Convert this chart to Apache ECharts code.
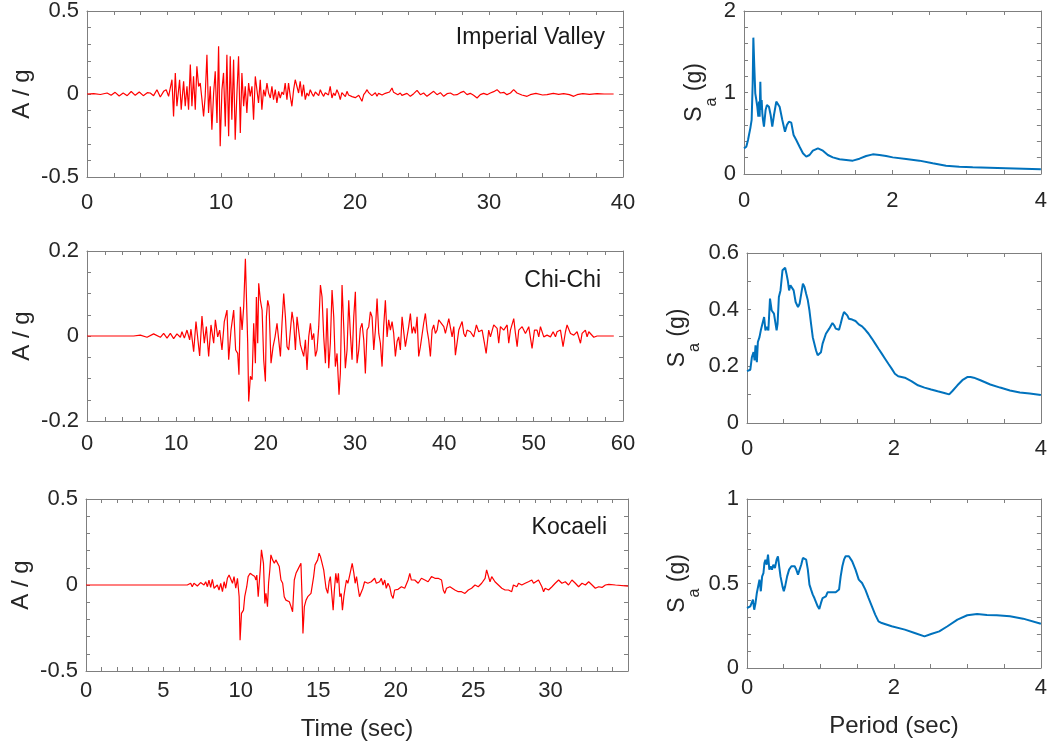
<!DOCTYPE html>
<html>
<head>
<meta charset="utf-8">
<script src="https://cdn.jsdelivr.net/npm/echarts@6/dist/echarts.min.js"></script>
<style>html,body{margin:0;padding:0;background:#fff;}#c{width:1050px;height:749px;}</style>
</head>
<body>
<div id="c"></div>
<script>
// ---------------- DATA ----------------
// Imperial Valley acceleration record [time (s), A/g]
const imperialAcc = [
[0,0],[0.5,0.002],[1.0,-0.003],[1.5,0.006],[1.8,-0.008],[2.1,0.01],[2.4,-0.012],[2.7,0.006],[3.0,-0.01],[3.3,0.015],[3.6,-0.008],[3.9,0.012],[4.2,-0.01],[4.5,0.008],
[4.72,0.006],[4.97,-0.010],[5.22,0.026],[5.47,-0.018],[5.72,0.016],[5.91,0.026],[6.09,-0.014],[6.34,0.086],[6.46,-0.135],[6.59,0.127],[6.71,-0.074],[6.91,0.086],[7.03,-0.094],[7.21,0.076],[7.33,-0.074],[7.46,0.046],[7.58,-0.094],[7.71,0.177],[7.83,-0.074],[7.95,0.106],[8.08,-0.094],[8.20,0.167],[8.33,0.046],[8.45,0.066],[8.58,-0.034],[8.70,-0.135],[8.82,-0.014],[8.95,0.237],[9.07,-0.114],[9.20,0.046],[9.32,-0.215],[9.45,0.006],[9.57,0.137],[9.70,-0.175],[9.82,0.287],[9.94,-0.315],[10.07,0.026],[10.19,0.127],[10.32,-0.195],[10.44,0.237],[10.57,-0.255],[10.69,0.227],[10.81,-0.155],[10.94,0.207],[11.06,-0.275],[11.19,0.006],[11.31,0.227],[11.44,-0.235],[11.56,0.127],[11.69,-0.074],[11.81,0.046],[11.93,-0.114],[12.06,0.066],[12.18,-0.014],[12.31,0.046],[12.43,-0.155],[12.56,0.106],[12.68,0.116],[12.80,-0.054],[12.93,0.086],[13.05,-0.094],[13.18,0.026],[13.30,-0.014],[13.43,0.066],[13.55,0.006],[13.68,-0.024],[13.80,0.046],[13.92,-0.034],[14.05,0.026],[14.17,-0.054],[14.30,0.016],[14.42,-0.024],[14.55,0.012],[14.67,-0.004],[14.79,0.066],[14.92,-0.034],[15.04,0.066],[15.17,-0.014],[15.29,-0.074],[15.42,0.026],[15.54,0.086],[15.67,0.096],[15.79,0.006],[15.91,0.076],[16.04,-0.014],[16.16,0.056],[16.29,-0.034],[16.41,0.006],[16.54,-0.012],[16.66,0.026],[16.78,0.004],[16.91,-0.014],[17.04,0.012],[17.16,0.006],[17.29,-0.010],[17.41,0.026],[17.54,0.002],[17.66,-0.014],[17.78,0.008],[17.90,0.016],[18.02,-0.006],[18.15,0.046],[18.28,-0.024],[18.40,0.006],[18.52,-0.010],[18.65,0.026],[18.78,0.002],[18.90,-0.034],[19.02,0.008],[19.15,-0.004],[19.28,-0.016],[19.40,0.016],[19.52,-0.006],[19.65,0.006],
[19.78,-0.016],[19.90,-0.004],[20.02,-0.022],[20.15,-0.034],[20.28,-0.008],[20.40,-0.014],[20.52,-0.044],[20.65,-0.004],[20.78,0.010],[20.90,0.026],[21.02,0.008],[21.14,0.016],[21.26,-0.010],[21.39,-0.004],[21.52,0.008],[21.64,-0.014],[21.76,0.004],[21.89,0.006],[22.02,-0.006],[22.14,-0.014],[22.26,0.004],[22.39,-0.004],[22.58,0.012],[22.76,0.036],[22.88,0.010],[23.01,0.016],[23.2,-0.004],[23.38,0.006],[23.50,-0.008],[23.63,-0.014],[23.88,0.004],[24.13,-0.014],[24.38,0.002],[24.63,0.022],[24.88,-0.004],[25.12,0.006],[25.37,-0.014],[25.62,0.002],[25.87,0.016],[26.12,-0.004],[26.37,0.008],[26.62,-0.014],[26.87,0.002],[27.12,0.006],[27.37,-0.006],[27.61,-0.004],[27.86,0.008],[28.11,0.016],[28.36,-0.004],[28.6,0.004],[28.85,-0.008],[29.11,-0.024],[29.35,-0.004],[29.6,0.004],[29.85,-0.004],[30.10,0.006],[30.35,0.014],[30.60,0.026],[30.85,0.006],[31.1,0.010],[31.34,-0.004],[31.6,0.006],[31.84,0.026],[32.09,0.006],[32.45,-0.006],[32.84,-0.014],[33.08,-0.004],[33.5,0.004],[34.0,-0.006],[34.33,-0.004],[34.8,0.004],[35.2,-0.002],[35.57,0.002],[36.0,-0.004],[36.32,-0.014],[36.57,-0.004],[37.0,0.002],[37.5,-0.002],[38.06,0.002],[38.6,0],[39.30,0]
];

// Chi-Chi acceleration record [time (s), A/g]
const chichiAcc = [
[0,0],[5.22,0],[5.97,0.002],[6.72,-0.003],[7.46,0.005],[8.21,-0.003],[8.58,0.006],[8.96,-0.005],[9.33,0.006],[9.70,-0.006],[10.07,0.005],[10.45,-0.003],[10.63,0.010],[10.90,-0.005],[11.19,0.014],[11.49,-0.009],[11.64,0.016],[11.94,-0.037],[12.20,0.034],[12.61,-0.047],[12.87,0.047],[13.13,-0.017],[13.36,0.022],[13.62,-0.048],[13.88,0.026],[14.18,-0.017],[14.37,0.038],[14.63,-0.002],[14.85,0.014],[15.11,-0.033],[15.37,0.034],[15.67,0.061],[15.86,-0.056],[16.12,0.014],[16.42,0.061],[16.64,-0.033],[16.87,-0.041],[17.01,-0.091],
[17.17,0.069],[17.36,0.014],[17.54,0.069],[17.73,0.182],[17.99,-0.017],[18.10,-0.154],[18.29,-0.095],[18.48,-0.103],[18.66,0.030],[18.85,-0.064],[18.96,0.092],[19.11,-0.017],[19.22,0.124],[19.41,0.084],[19.60,0.061],[19.78,-0.056],[19.97,-0.107],[20.08,0.045],[20.23,0.084],[20.38,0.069],[20.60,-0.064],[20.83,-0.025],[21.05,-0.002],[21.27,0.030],[21.46,-0.009],[21.65,-0.048],[21.83,0.030],[22.02,0.100],[22.21,0.045],[22.39,-0.025],[22.58,-0.033],[22.77,0.014],[22.95,0.057],[23.14,0.030],[23.33,-0.033],[23.51,0.045],[23.70,0.041],[23.89,-0.021],[24.07,-0.025],[24.26,-0.048],[24.45,-0.009],[24.63,-0.080],[24.82,-0.002],[25.01,0.030],[25.19,-0.009],[25.38,0.006],[25.57,-0.048],[25.75,-0.033],[25.94,0.022],[26.13,0.120],[26.31,0.092],[26.50,-0.002],[26.69,-0.064],[26.87,0.065],[27.06,-0.076],[27.24,-0.017],[27.43,0.108],[27.62,0.045],[27.80,-0.072],[27.99,-0.041],[28.21,-0.138],[28.36,-0.088],[28.55,0.120],[28.74,0.022],[28.92,-0.076],[29.11,-0.033],[29.30,0.084],[29.48,0.006],[29.67,-0.056],[29.86,0.045],[30.04,0.104],[30.23,-0.064],[30.42,-0.033],[30.60,0.018],[30.79,0.030],[30.98,-0.009],[31.16,-0.088],[31.35,0.014],[31.54,0.022],[31.72,0.057],[31.91,0.045],[32.10,-0.033],[32.28,0.014],[32.47,0.088],[32.66,0.006],[32.84,-0.017],[33.03,-0.072],[33.21,0.022],[33.40,0.084],[33.59,-0.002],[33.77,0.038],[33.96,0.014],[34.15,0.034],[34.33,0.006],[34.52,-0.048],[34.71,-0.013],[34.89,-0.002],[35.08,-0.033],[35.27,0.045],[35.45,0.049],[35.64,-0.025],[35.83,-0.029],[36.01,0.022],[36.20,0.053],[36.39,0.006],[36.57,0.022],[36.76,0.006],[36.95,0.045],[37.13,-0.048],[37.32,-0.025],[37.51,-0.021],[37.69,0.030],[37.88,0.053],[38.07,0.014],[38.25,-0.009],[38.44,-0.048],[38.63,0.014],[38.81,0.026],[39.00,0.006],[39.19,0.014],[39.37,0.038],[39.56,0.041],
[39.94,0.022],[40.12,0.006],[40.50,0.041],[40.87,-0.002],[41.06,0.022],[41.24,-0.045],[41.62,0.014],[41.99,0.034],[42.18,0.006],[42.36,-0.002],[42.55,0.014],[42.92,0.010],[43.29,-0.002],[43.59,0.026],[43.85,0.010],[44.23,0.014],[44.49,-0.017],[44.68,-0.041],[44.97,0.014],[45.16,-0.002],[45.53,0.026],[45.91,0.018],[46.09,-0.017],[46.28,0.022],[46.65,0.014],[47.03,0.026],[47.21,-0.017],[47.40,0.014],[47.77,0.041],[47.96,0.006],[48.15,-0.025],[48.33,0.014],[48.71,0.022],[49.08,0.006],[49.45,0.022],[49.82,-0.029],[50.09,0.014],[50.38,0.014],[50.57,-0.002],[50.76,0.022],[51.13,-0.002],[51.50,0.002],[51.88,-0.002],[52.18,0.010],[52.44,-0.002],[52.62,0.010],[53.00,0.014],[53.29,-0.025],[53.56,0.010],[53.74,0.026],[54.12,0.006],[54.49,0.002],[54.86,0.010],[55.24,-0.017],[55.42,0.006],[55.79,0.014],[55.98,-0.002],[56.17,0.010],[56.35,0.014],[56.73,-0.003],[57.10,0],[58.97,0]
];

// Kocaeli acceleration record [time (s), A/g]
const kocaeliAcc = [
[0,0],[5.46,0],[6.54,0],[6.76,0.010],[6.86,-0.010],[6.97,0.010],[7.19,-0.006],[7.40,0.014],[7.62,0],[7.73,0.019],[7.84,-0.010],[7.94,0.029],[8.05,-0.014],[8.16,0.033],[8.27,-0.019],[8.48,0],[8.59,-0.029],[8.70,0.010],[8.81,-0.039],[8.92,0.019],[9.02,-0.019],[9.13,0.039],[9.24,0.058],[9.35,0.068],[9.46,0.010],[9.56,0.049],[9.67,-0.019],[9.78,0.039],[9.89,-0.068],[9.95,-0.321],[10.04,-0.165],[10.17,-0.146],[10.25,-0.068],[10.38,-0.010],[10.47,0.049],[10.60,0.068],[10.75,0.058],[10.90,0.049],[10.97,0.029],[11.03,0.058],[11.12,-0.068],[11.25,0.088],[11.33,0.204],[11.46,0.126],[11.55,-0.107],[11.62,-0.049],[11.72,-0.126],[11.79,0.010],[11.87,0.088],[11.94,0.175],[12.05,0.146],[12.16,0.126],[12.26,0.146],[12.37,0.136],[12.48,0.107],[12.59,0.029],[12.70,0.010],[12.80,-0.068],[12.91,-0.088],[13.02,-0.078],[13.13,-0.097],[13.24,-0.126],[13.34,-0.156],[13.45,0.029],[13.56,0.068],[13.67,0.088],[13.78,0.078],[13.88,0.126],[13.95,-0.068],[14.01,-0.282],[14.10,-0.126],[14.21,-0.088],[14.32,-0.068],[14.53,-0.049],[14.70,0.049],[14.79,0.117],[14.88,0.126],[14.96,0.146],[15.05,0.185],[15.14,0.165],[15.22,0.136],[15.35,0.088],[15.50,-0.019],[15.61,-0.049],[15.70,0.019],[15.78,0.049],[15.87,-0.049],[15.96,-0.146],[16.04,-0.029],[16.13,0.068],[16.22,0.010],[16.30,0.068],[16.39,-0.068],[16.48,-0.049],[16.56,-0.146],[16.65,-0.068],[16.73,-0.019],[16.82,0.029],[16.91,0.010],[17.01,0.049],[17.12,0.049],[17.19,0.126],[17.30,0.068],[17.38,0.010],[17.47,0.049],[17.56,-0.010],[17.66,-0.068],[17.77,-0.078],[17.88,-0.019],[17.99,0.019],[18.20,0.010],[18.42,0.019],
[18.64,0.039],[18.75,0.010],[18.96,0.019],[19.07,0.039],[19.18,0],[19.29,0.029],[19.39,-0.019],[19.50,0.010],[19.61,-0.010],[19.72,-0.058],[19.83,-0.078],[19.93,-0.029],[20.04,-0.019],[20.15,-0.025],[20.37,-0.010],[20.58,-0.019],[20.80,0.029],[20.91,0.068],[21.01,0.029],[21.12,0.019],[21.23,0.029],[21.45,0.010],[21.66,0.039],[21.77,0.049],[21.88,0.029],[21.99,0.039],[22.09,0.019],[22.31,0.049],[22.42,0.058],[22.53,0.039],[22.63,0.049],[22.74,0.039],[22.96,0.029],[23.07,-0.029],[23.17,-0.049],[23.28,-0.019],[23.39,-0.029],[23.50,-0.010],[23.61,-0.019],[23.82,-0.029],[24.04,-0.039],[24.25,-0.039],[24.47,-0.049],[24.69,-0.029],[24.90,-0.019],[25.12,0],[25.33,-0.010],[25.55,0.010],[25.66,0.019],[25.77,0.039],[25.87,0.088],[25.98,0.078],[26.09,0.019],[26.20,0.049],[26.31,0.039],[26.41,0.019],[26.63,0],[26.85,-0.019],[27.06,-0.029],[27.28,-0.029],[27.49,-0.039],[27.60,0],[27.71,0.010],[27.82,-0.010],[27.93,0.010],[28.14,0],[28.36,0.010],[28.57,0.019],[28.79,0.029],[28.90,0.010],[29.00,0],[29.22,0.029],[29.44,-0.010],[29.55,-0.039],[29.65,-0.019],[29.87,-0.029],[30.09,-0.010],[30.30,0.010],[30.52,0.029],[30.73,0.010],[30.95,0.019],[31.16,0],[31.38,0.029],[31.49,0.039],[31.60,0.010],[31.81,-0.010],[32.03,0.010],[32.25,0],[32.46,0.019],[32.68,0],[32.89,-0.019],[33.11,-0.010],[33.32,-0.014],[33.54,0],[33.76,0.004],[34.19,0],[35.0,-0.006]
];

// Response spectra [period (s), Sa (g)]
const imperialSa = [
[0,0.315],[0.031,0.335],[0.054,0.417],[0.067,0.479],[0.085,0.560],[0.103,0.663],[0.117,1.112],[0.126,1.673],[0.139,1.317],[0.152,0.990],[0.166,0.908],[0.179,0.826],[0.193,0.703],[0.202,0.888],[0.211,0.703],[0.220,1.133],[0.229,0.785],[0.238,0.908],[0.247,0.744],[0.256,0.663],[0.269,0.581],[0.291,0.785],[0.309,0.847],[0.336,0.826],[0.359,0.724],[0.381,0.581],[0.404,0.724],[0.435,0.888],[0.457,0.908],[0.480,0.826],[0.516,0.663],[0.552,0.519],[0.578,0.601],[0.605,0.642],[0.637,0.630],[0.668,0.479],[0.704,0.417],[0.749,0.335],[0.794,0.254],[0.839,0.213],[0.883,0.233],[0.928,0.286],[0.996,0.315],[1.063,0.286],[1.130,0.233],[1.197,0.204],[1.287,0.180],[1.377,0.172],[1.466,0.164],[1.556,0.188],[1.646,0.221],[1.735,0.241],[1.825,0.233],[1.915,0.221],[2.004,0.204],[2.184,0.184],[2.363,0.164],[2.543,0.131],[2.722,0.102],[2.901,0.090],[3.081,0.082],[3.529,0.070],[4.0,0.057]
];
const chichiSa = [
[0,0.183],[0.045,0.188],[0.067,0.233],[0.089,0.250],[0.103,0.221],[0.116,0.274],[0.134,0.215],[0.148,0.286],[0.170,0.303],[0.188,0.327],[0.215,0.333],[0.233,0.374],[0.251,0.327],[0.268,0.339],[0.291,0.327],[0.313,0.439],[0.336,0.397],[0.349,0.397],[0.367,0.386],[0.380,0.392],[0.403,0.327],[0.416,0.350],[0.434,0.445],[0.456,0.468],[0.483,0.539],[0.501,0.545],[0.519,0.548],[0.537,0.527],[0.555,0.503],[0.573,0.468],[0.591,0.486],[0.617,0.480],[0.635,0.468],[0.662,0.427],[0.694,0.409],[0.716,0.421],[0.738,0.456],[0.761,0.492],[0.783,0.480],[0.805,0.456],[0.828,0.433],[0.850,0.397],[0.872,0.350],[0.895,0.303],[0.917,0.280],[0.940,0.256],[0.962,0.239],[0.984,0.233],[1.007,0.250],[1.029,0.280],[1.074,0.315],[1.119,0.333],[1.141,0.339],[1.163,0.353],[1.186,0.345],[1.208,0.333],[1.230,0.327],[1.253,0.329],[1.275,0.350],[1.298,0.374],[1.320,0.392],[1.342,0.395],[1.365,0.380],[1.387,0.368],[1.432,0.365],[1.477,0.360],[1.521,0.348],[1.566,0.341],[1.611,0.329],[1.655,0.315],[1.700,0.298],[1.745,0.280],[1.790,0.262],[1.834,0.245],[1.879,0.227],[1.924,0.209],[1.969,0.192],[2.013,0.174],[2.058,0.165],[2.148,0.160],[2.237,0.148],[2.327,0.133],[2.416,0.125],[2.506,0.118],[2.595,0.112],[2.685,0.106],[2.752,0.101],[2.796,0.113],[2.864,0.133],[2.931,0.151],[2.998,0.162],[3.043,0.162],[3.087,0.160],[3.177,0.151],[3.311,0.136],[3.445,0.125],[3.579,0.115],[3.714,0.108],[3.848,0.104],[4.0,0.099]
];
const kocaeliSa = [
[0,0.355],[0.045,0.365],[0.067,0.355],[0.081,0.404],[0.098,0.345],[0.116,0.385],[0.134,0.444],[0.157,0.454],[0.170,0.523],[0.188,0.454],[0.206,0.542],[0.224,0.562],[0.237,0.621],[0.251,0.641],[0.268,0.611],[0.286,0.671],[0.304,0.582],[0.322,0.602],[0.340,0.582],[0.358,0.611],[0.380,0.592],[0.403,0.641],[0.421,0.661],[0.438,0.602],[0.456,0.542],[0.483,0.483],[0.501,0.454],[0.519,0.483],[0.546,0.542],[0.573,0.582],[0.604,0.602],[0.626,0.611],[0.649,0.602],[0.671,0.582],[0.694,0.552],[0.716,0.582],[0.738,0.611],[0.761,0.651],[0.783,0.661],[0.805,0.641],[0.828,0.582],[0.850,0.493],[0.872,0.464],[0.895,0.434],[0.917,0.414],[0.940,0.404],[0.962,0.365],[0.984,0.349],[1.007,0.385],[1.029,0.414],[1.051,0.414],[1.074,0.424],[1.096,0.448],[1.119,0.454],[1.163,0.448],[1.208,0.448],[1.253,0.464],[1.275,0.542],[1.298,0.602],[1.320,0.641],[1.342,0.661],[1.365,0.671],[1.387,0.661],[1.432,0.631],[1.477,0.582],[1.521,0.523],[1.566,0.503],[1.611,0.464],[1.655,0.414],[1.700,0.365],[1.745,0.316],[1.790,0.276],[1.834,0.266],[1.969,0.247],[2.148,0.227],[2.282,0.207],[2.416,0.187],[2.506,0.201],[2.617,0.217],[2.729,0.247],[2.864,0.286],[2.998,0.312],[3.132,0.320],[3.266,0.314],[3.400,0.312],[3.579,0.306],[3.758,0.292],[4.0,0.262]
];

// Axis ranges [min, max, major interval, minor splits]
const timeAxisIV = [0, 40, 10, 5];
const timeAxisCC = [0, 60, 10, 5];
const timeAxisKO = [0, 35, 5, 5];
const accAxisIV = [-0.5, 0.5, 0.5, 5];
const accAxisCC = [-0.2, 0.2, 0.2, 4];
const accAxisKO = [-0.5, 0.5, 0.5, 5];
const periodAxis = [0, 4, 2, 4];
const saAxisIV = [0, 2, 1, 5];
const saAxisCC = [0, 0.6, 0.2, 2];
const saAxisKO = [0, 1, 0.5, 5];

const eventNames = ['Imperial Valley', 'Chi-Chi', 'Kocaeli'];
const axisTitles = { acc: 'A / g', sa: '{s|S}{sub|a}{s| (g)}', time: 'Time (sec)', period: 'Period (sec)' };

// ---------------- LAYOUT / STYLE ----------------
const FONT = '"Liberation Sans", Arial, Helvetica, sans-serif';
const TXT = '#262626';
const AXC = '#7f7f7f';
const RED = '#ff0000';
const BLUE = '#0072bd';

const panels = [
  { grid: { left: 87, top: 11, width: 536, height: 166 }, x: timeAxisIV, y: accAxisIV, data: imperialAcc, color: RED, lw: 1.2, xm: 15, yName: axisTitles.acc, yGap: 53 },
  { grid: { left: 744, top: 11, width: 298, height: 163 }, x: periodAxis, y: saAxisIV, data: imperialSa, color: BLUE, lw: 2, xm: 16, yName: axisTitles.sa, yGap: 38 },
  { grid: { left: 87, top: 251, width: 536, height: 170 }, x: timeAxisCC, y: accAxisCC, data: chichiAcc, color: RED, lw: 1.2, xm: 12, yName: axisTitles.acc, yGap: 53 },
  { grid: { left: 747, top: 253, width: 296, height: 170 }, x: periodAxis, y: saAxisCC, data: chichiSa, color: BLUE, lw: 2, xm: 15, yName: axisTitles.sa, yGap: 58 },
  { grid: { left: 86, top: 499, width: 542, height: 172 }, x: timeAxisKO, y: accAxisKO, data: kocaeliAcc, color: RED, lw: 1.2, xm: 9, yName: axisTitles.acc, yGap: 53, hideMax: true, xName: axisTitles.time, xGap: 46 },
  { grid: { left: 747, top: 499, width: 296, height: 169 }, x: periodAxis, y: saAxisKO, data: kocaeliSa, color: BLUE, lw: 2, xm: 9, yName: axisTitles.sa, yGap: 58, xName: axisTitles.period, xGap: 46 }
];

const nameRich = {
  s: { fontSize: 23, fontFamily: FONT, color: TXT, lineHeight: 23, verticalAlign: 'top' },
  sub: { fontSize: 16, fontFamily: FONT, color: TXT, lineHeight: 16, verticalAlign: 'top', padding: [21, 0, 0, 0] }
};

function axisBase(gi, r, pos, showLabel, margin, hideMax, isY) {
  return {
    gridIndex: gi, type: 'value', position: pos,
    min: r[0], max: r[1], interval: r[2],
    axisLine: { show: true, onZero: false, lineStyle: { color: AXC, width: 1 } },
    axisTick: { show: true, inside: true, length: 4, lineStyle: { color: AXC, width: 1 } },
    minorTick: { show: true, splitNumber: r[3], length: 4, lineStyle: { color: AXC, width: 1 } },
    splitLine: { show: false }, minorSplitLine: { show: false },
    axisLabel: { show: showLabel, margin: margin, color: TXT, fontSize: 22, fontFamily: FONT,
                 padding: isY ? [4, 0, 0, 0] : 0,
                 showMaxLabel: hideMax ? false : null }
  };
}

const xAxes = [], yAxes = [], grids = [], series = [];
panels.forEach((p, i) => {
  grids.push(Object.assign({ containLabel: false }, p.grid));
  const xb = axisBase(i, p.x, 'bottom', true, p.xm, p.hideMax, false);
  if (p.xName) {
    Object.assign(xb, { name: p.xName, nameLocation: 'middle', nameGap: p.xGap, nameMoveOverlap: false,
      nameTextStyle: { fontSize: 24, fontFamily: FONT, color: TXT } });
  }
  xAxes.push(xb);
  xAxes.push(axisBase(i, p.x, 'top', false, 8, false, false));
  const yl = axisBase(i, p.y, 'left', true, 8, false, true);
  Object.assign(yl, { name: p.yName, nameLocation: 'middle', nameRotate: 90, nameGap: p.yGap, nameMoveOverlap: false,
    nameTextStyle: { fontSize: 24, fontFamily: FONT, color: TXT, rich: nameRich } });
  yAxes.push(yl);
  yAxes.push(axisBase(i, p.y, 'right', false, 8, false, true));
  series.push({
    type: 'line', xAxisIndex: 2 * i, yAxisIndex: 2 * i, data: p.data,
    showSymbol: false, symbol: 'none', smooth: false, clip: true,
    lineStyle: { color: p.color, width: p.lw }, itemStyle: { color: p.color },
    emphasis: { disabled: true }, silent: true
  });
});

const labelPos = [[605, 38], [601, 280.5], [607, 528]];
const graphics = eventNames.map((t, i) => ({
  type: 'text', x: labelPos[i][0], y: labelPos[i][1], silent: true,
  style: { text: t, fill: '#1a1a1a', font: '23px ' + FONT, textAlign: 'right', textVerticalAlign: 'middle' }
}));

const chart = echarts.init(document.getElementById('c'), null, { renderer: 'canvas' });
chart.setOption({
  backgroundColor: '#ffffff',
  animation: false,
  grid: grids, xAxis: xAxes, yAxis: yAxes, series: series,
  graphic: graphics
});
</script>
</body>
</html>
